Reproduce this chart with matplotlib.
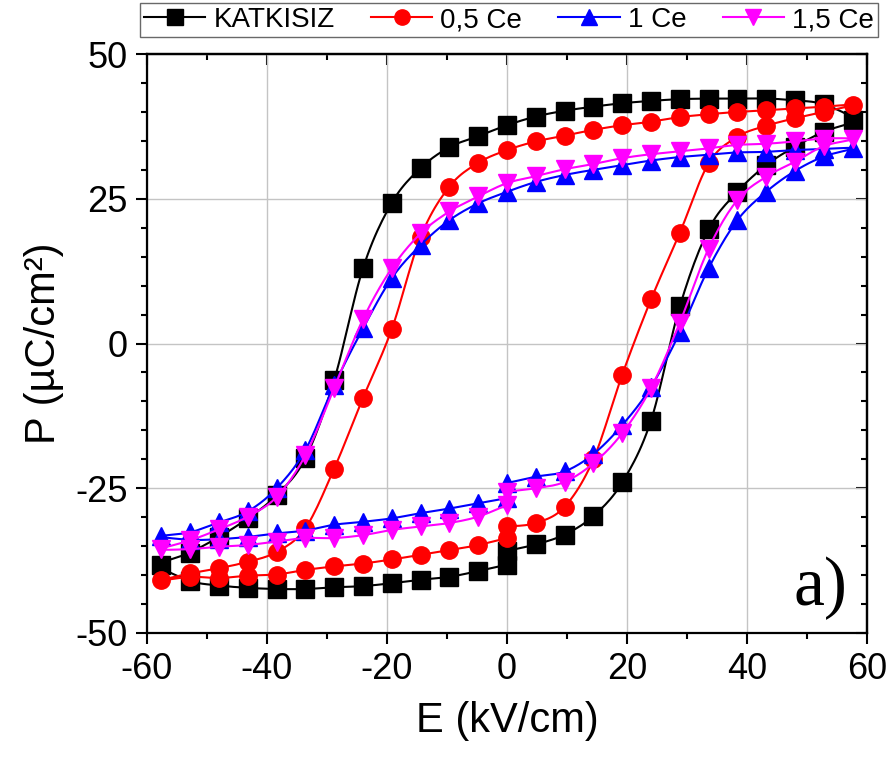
import numpy as np
import matplotlib
matplotlib.use("Agg")
import matplotlib.pyplot as plt
from matplotlib.ticker import MultipleLocator
from matplotlib.lines import Line2D

plt.rcParams['font.family'] = ['Liberation Sans', 'DejaVu Sans']
plt.rcParams['axes.unicode_minus'] = False

# Electric field sequence: start at 0, up to +Emax, down to -Emax, back up to 0
E = [0.0, 4.8, 9.6, 14.4, 19.2, 24.0, 28.8, 33.6, 38.4, 43.2, 48.0, 52.8, 57.6,
     52.8, 48.0, 43.2, 38.4, 33.6, 28.8, 24.0, 19.2, 14.4, 9.6, 4.8, 0.0,
     -4.8, -9.6, -14.4, -19.2, -24.0, -28.8, -33.6, -38.4, -43.2, -48.0, -52.8, -57.6,
     -52.8, -48.0, -43.2, -38.4, -33.6, -28.8, -24.0, -19.2, -14.4, -9.6, -4.8, 0.0]

P_katkisiz = [-35.8, -34.7, -33.0, -29.8, -24.0, -13.3, 6.4, 19.7, 26.2, 30.8, 34.0, 36.6, 38.6,
              41.3, 42.0, 42.3, 42.3, 42.3, 42.2, 41.9, 41.5, 40.9, 40.2, 39.2, 37.7,
              35.8, 33.9, 30.3, 24.3, 13.0, -6.3, -19.8, -26.2, -30.2, -33.4, -36.1, -38.3,
              -41.0, -41.8, -42.2, -42.4, -42.4, -42.1, -41.9, -41.4, -40.8, -40.3, -39.3, -38.2]

P_05ce = [-31.6, -31.0, -28.2, -20.0, -5.4, 7.6, 19.1, 31.1, 35.7, 37.6, 38.9, 40.0, 41.2,
          40.9, 40.6, 40.3, 40.0, 39.6, 39.1, 38.3, 37.7, 36.9, 35.9, 34.9, 33.4,
          31.2, 27.1, 18.4, 2.5, -9.4, -21.6, -31.9, -36.0, -37.7, -38.8, -39.7, -40.9,
          -40.3, -40.5, -40.1, -39.9, -39.1, -38.5, -38.0, -37.3, -36.5, -35.7, -34.8, -33.6]

P_1ce = [-24.1, -23.0, -22.1, -19.1, -14.1, -7.5, 1.9, 13.0, 21.3, 26.2, 29.8, 32.3, 33.7,
         33.6, 33.4, 33.1, 33.0, 32.6, 32.2, 31.6, 30.8, 30.0, 29.1, 27.9, 26.2,
         24.2, 21.3, 17.0, 11.3, 2.6, -7.2, -18.4, -25.0, -29.0, -30.9, -32.6, -33.3,
         -33.9, -33.8, -33.4, -32.8, -32.3, -31.3, -30.8, -30.2, -29.3, -28.5, -27.6, -26.7]

P_15ce = [-25.6, -25.0, -23.9, -20.7, -15.5, -7.7, 3.6, 16.4, 24.8, 28.8, 31.4, 34.1, 35.3,
          35.4, 34.9, 34.5, 34.3, 33.7, 33.2, 32.7, 32.0, 31.0, 30.1, 28.9, 27.7,
          25.4, 22.8, 19.0, 13.0, 4.2, -7.7, -19.3, -26.5, -29.9, -32.1, -34.0, -35.5,
          -35.5, -35.1, -34.8, -34.2, -33.6, -33.6, -33.1, -32.2, -31.6, -31.0, -29.9, -27.9]

labels = ['KATKISIZ', '0,5 Ce', '1 Ce', '1,5 Ce']
colors = ['black', '#ff0000', '#0000ff', '#ff00ff']
markers = ['s', 'o', '^', 'v']
series = [P_katkisiz, P_05ce, P_1ce, P_15ce]

x_ticks = [-60, -40, -20, 0, 20, 40, 60]
y_ticks = [-50, -25, 0, 25, 50]


def catmull_rom(x, y, n=12):
    pts = np.column_stack([x, y]).astype(float)
    P = np.vstack([pts[0], pts, pts[-1]])
    out = []
    t = np.linspace(0, 1, n, endpoint=False)[:, None]
    for i in range(len(pts) - 1):
        p0, p1, p2, p3 = P[i], P[i + 1], P[i + 2], P[i + 3]
        seg = 0.5 * ((2 * p1) + (-p0 + p2) * t + (2 * p0 - 5 * p1 + 4 * p2 - p3) * t ** 2
                     + (-p0 + 3 * p1 - 3 * p2 + p3) * t ** 3)
        out.append(seg)
    out.append(pts[-1][None, :])
    out = np.vstack(out)
    return out[:, 0], out[:, 1]


fig = plt.figure(figsize=(8.92, 7.67), dpi=100)
ax = fig.add_axes([147 / 892, 1 - 633 / 767, 720 / 892, 579 / 767])

for P, c, m, lab in zip(series, colors, markers, labels):
    xs, ys = catmull_rom(E, P)
    ax.plot(xs, ys, color=c, lw=1.5, zorder=3)
    ax.plot(E, P, linestyle='none', marker=m, color=c, markersize=12.5, zorder=3)

ax.set_xlim(-60, 60)
ax.set_ylim(-50, 50)
ax.set_xticks(x_ticks)
ax.set_yticks(y_ticks)
ax.xaxis.set_minor_locator(MultipleLocator(10))
ax.yaxis.set_minor_locator(MultipleLocator(5))
ax.tick_params(which='major', direction='out', length=8, width=1.5, labelsize=26, pad=6)
ax.tick_params(which='minor', direction='out', length=4, width=1.5)
ax.grid(True, which='major', color='#c4c4c4', lw=1.0)
ax.set_axisbelow(True)
for sp in ax.spines.values():
    sp.set_linewidth(1.6)

secx = ax.secondary_xaxis('top')
secx.set_xticks(x_ticks)
secx.xaxis.set_minor_locator(MultipleLocator(10))
secx.tick_params(which='major', direction='in', length=8, width=1.5, labeltop=False)
secx.tick_params(which='minor', direction='in', length=4, width=1.5)
secx.spines['top'].set_linewidth(1.6)

secy = ax.secondary_yaxis('right')
secy.set_yticks(y_ticks)
secy.yaxis.set_minor_locator(MultipleLocator(5))
secy.tick_params(which='major', direction='in', length=8, width=1.5, labelright=False)
secy.tick_params(which='minor', direction='in', length=4, width=1.5)
secy.spines['right'].set_linewidth(1.6)

ax.set_xlabel('E (kV/cm)', fontsize=30, labelpad=10)
ax.set_ylabel('P (µC/cm²)', fontsize=30, labelpad=8)

fig.text(847 / 892, 1 - 605 / 767, 'a)', ha='right', va='baseline', fontsize=50,
         family='Liberation Serif')

handles = [Line2D([], [], color=c, marker=m, lw=1.5, markersize=11)
           for c, m in zip(colors, markers)]
fig.legend(handles, labels, loc='upper left', bbox_to_anchor=(140 / 892, 1 - 3 / 767),
           ncol=4, frameon=True, fancybox=False, edgecolor='#444444', fontsize=20,
           handlelength=2.2, handletextpad=0.3, columnspacing=1.3, borderpad=0.15,
           borderaxespad=0)

fig.savefig('out.png', dpi=100)
